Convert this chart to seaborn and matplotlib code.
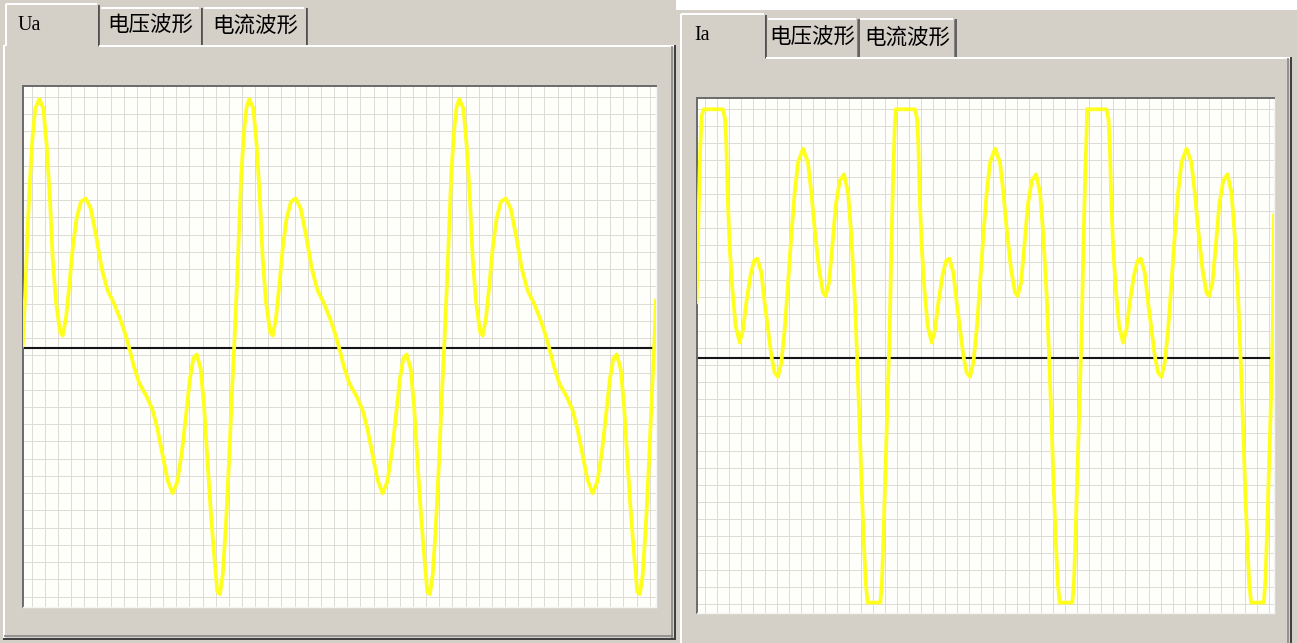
import numpy as np
import matplotlib
matplotlib.use("Agg")
import matplotlib.pyplot as plt
from matplotlib.patches import Rectangle
import seaborn as sns

sns.set_theme(style="white")
plt.rcParams['font.family'] = ['Noto Sans CJK SC', 'DejaVu Sans']

# ---------------------------------------------------------------------------
# Data: time in grid divisions, amplitude in grid divisions (0 = axis line)
# ---------------------------------------------------------------------------
left_tabs = ["Ua", "电压波形", "电流波形"]
right_tabs = ["Ia", "电压波形", "电流波形"]

ua_t = [
    0.00, 0.20, 0.35, 0.56, 0.76, 0.96,
    1.26, 1.57, 1.82, 2.08, 2.28, 2.53, 2.84, 3.04, 3.29, 3.55, 3.80, 4.10, 4.43, 4.79,
    5.17, 5.57, 6.01, 6.44, 6.94, 7.40, 7.78, 8.11, 8.46, 8.87, 9.43, 9.88, 10.24, 10.64,
    11.02, 11.40, 11.76, 12.11, 12.42, 12.72, 12.98, 13.23, 13.53, 13.79, 14.04, 14.32,
    14.60, 14.80, 15.00, 15.21, 15.44, 15.69, 15.92, 16.09, 16.27, 16.45, 16.62, 16.83, 17.03,
    17.23, 17.54, 17.79, 18.05, 18.25, 18.50, 18.81, 19.01, 19.26, 19.52, 19.77, 20.07, 20.40, 20.76,
    21.14, 21.54, 21.98, 22.41, 22.91, 23.37, 23.75, 24.08, 24.43, 24.84, 25.40, 25.85, 26.21, 26.61,
    26.99, 27.37, 27.73, 28.08, 28.39, 28.69, 28.95, 29.20, 29.50, 29.76, 30.01, 30.29,
    30.57, 30.77, 30.97, 31.18, 31.41, 31.66, 31.89, 32.06, 32.24, 32.42, 32.59, 32.80, 33.00,
    33.20, 33.51, 33.76, 34.02, 34.22, 34.47, 34.78, 34.98, 35.23, 35.49, 35.74, 36.04, 36.37, 36.73,
    37.11, 37.51, 37.95, 38.38, 38.88, 39.34, 39.72, 40.05, 40.40, 40.81, 41.37, 41.82, 42.18, 42.58,
    42.96, 43.34, 43.70, 44.05, 44.36, 44.66, 44.92, 45.17, 45.47, 45.73, 45.98, 46.26,
    46.54, 46.74, 46.94, 47.15, 47.38, 47.63, 47.86, 48.03, 48.16,
]
ua_v = [
    0.10, 3.24, 6.51, 9.81, 12.33, 13.87,
    14.41, 13.87, 11.75, 8.46, 5.17, 2.66, 0.92, 0.69, 1.69, 3.63, 5.75, 7.49, 8.46, 8.65,
    8.07, 6.53, 4.59, 3.34, 2.56, 1.69, 0.82, -0.05, -1.11, -2.08, -2.85, -3.63, -4.69, -6.24,
    -7.69, -8.46, -7.78, -6.04, -3.91, -1.79, -0.63, -0.40, -1.21, -3.34, -6.43, -9.72,
    -12.42, -14.16, -14.30, -13.20, -10.49, -6.62, -2.56, 0.15, 3.24, 6.70, 10.00, 12.52, 13.97,
    14.41, 13.87, 11.75, 8.46, 5.17, 2.66, 0.92, 0.69, 1.69, 3.63, 5.75, 7.49, 8.46, 8.65,
    8.07, 6.53, 4.59, 3.34, 2.56, 1.69, 0.82, -0.05, -1.11, -2.08, -2.85, -3.63, -4.69, -6.24,
    -7.69, -8.46, -7.78, -6.04, -3.91, -1.79, -0.63, -0.40, -1.21, -3.34, -6.43, -9.72,
    -12.42, -14.16, -14.30, -13.20, -10.49, -6.62, -2.56, 0.15, 3.24, 6.70, 10.00, 12.52, 13.97,
    14.41, 13.87, 11.75, 8.46, 5.17, 2.66, 0.92, 0.69, 1.69, 3.63, 5.75, 7.49, 8.46, 8.65,
    8.07, 6.53, 4.59, 3.34, 2.56, 1.69, 0.82, -0.05, -1.11, -2.08, -2.85, -3.63, -4.69, -6.24,
    -7.69, -8.46, -7.78, -6.04, -3.91, -1.79, -0.63, -0.40, -1.21, -3.34, -6.43, -9.72,
    -12.42, -14.16, -14.30, -13.20, -10.49, -6.62, -2.56, 0.15, 2.76,
]

ia_t = [
    0.00, 0.10, 0.21, 0.32, 0.43,
    0.60, 2.21, 2.38, 2.49, 2.60, 2.76, 2.99, 3.26, 3.60, 3.88, 4.15, 4.49, 4.79, 5.07,
    5.40, 5.68, 5.96, 6.24, 6.51, 6.79, 7.07, 7.35, 7.63, 7.90, 8.18, 8.46, 8.88, 9.29,
    9.57, 9.85, 10.21, 10.54, 10.76, 11.04, 11.32, 11.60, 11.93, 12.29, 12.63, 12.90, 13.18,
    13.40, 13.60, 13.79, 13.96, 14.10, 14.26, 15.32, 15.46, 15.60, 15.76, 15.93, 16.10,
    16.24, 16.38, 16.51,
    16.60, 18.21, 18.38, 18.49, 18.60, 18.76, 18.99, 19.26, 19.60, 19.88, 20.15, 20.49, 20.79, 21.07,
    21.40, 21.68, 21.96, 22.24, 22.51, 22.79, 23.07, 23.35, 23.63, 23.90, 24.18, 24.46, 24.88, 25.29,
    25.57, 25.85, 26.21, 26.54, 26.76, 27.04, 27.32, 27.60, 27.93, 28.29, 28.63, 28.90, 29.18,
    29.40, 29.60, 29.79, 29.96, 30.10, 30.26, 31.32, 31.46, 31.60, 31.76, 31.93, 32.10,
    32.24, 32.38, 32.51,
    32.55, 34.16, 34.33, 34.44, 34.55, 34.71, 34.94, 35.21, 35.55, 35.83, 36.10, 36.44, 36.74, 37.02,
    37.35, 37.63, 37.91, 38.19, 38.46, 38.74, 39.02, 39.30, 39.58, 39.85, 40.13, 40.41, 40.83, 41.24,
    41.52, 41.80, 42.16, 42.49, 42.71, 42.99, 43.27, 43.55, 43.88, 44.24, 44.58, 44.85, 45.13,
    45.35, 45.55, 45.74, 45.91, 46.05, 46.21, 47.27, 47.41, 47.55, 47.71, 47.88, 48.02,
    48.12,
]
ia_v = [
    3.25, 5.98, 9.49, 12.42, 14.17,
    14.56, 14.56, 13.98, 12.42, 9.49, 6.57, 4.04, 1.89, 0.91, 1.70, 3.25, 4.81, 5.69, 5.83,
    5.01, 3.25, 1.70, 0.13, -0.84, -1.08, -0.26, 1.70, 4.42, 7.15, 9.68, 11.44, 12.26, 11.44,
    9.68, 7.54, 5.20, 3.84, 3.64, 4.42, 6.57, 8.91, 10.37, 10.76, 9.68, 7.15, 3.64,
    -0.26, -4.15, -8.05, -10.98, -13.12, -14.29, -14.29, -12.92, -10.00, -6.11, -2.20, 1.70,
    6.57, 10.47, 13.39,
    14.56, 14.56, 13.98, 12.42, 9.49, 6.57, 4.04, 1.89, 0.91, 1.70, 3.25, 4.81, 5.69, 5.83,
    5.01, 3.25, 1.70, 0.13, -0.84, -1.08, -0.26, 1.70, 4.42, 7.15, 9.68, 11.44, 12.26, 11.44,
    9.68, 7.54, 5.20, 3.84, 3.64, 4.42, 6.57, 8.91, 10.37, 10.76, 9.68, 7.15, 3.64,
    -0.26, -4.15, -8.05, -10.98, -13.12, -14.29, -14.29, -12.92, -10.00, -6.11, -2.20, 1.70,
    6.57, 10.47, 13.39,
    14.56, 14.56, 13.98, 12.42, 9.49, 6.57, 4.04, 1.89, 0.91, 1.70, 3.25, 4.81, 5.69, 5.83,
    5.01, 3.25, 1.70, 0.13, -0.84, -1.08, -0.26, 1.70, 4.42, 7.15, 9.68, 11.44, 12.26, 11.44,
    9.68, 7.54, 5.20, 3.84, 3.64, 4.42, 6.57, 8.91, 10.37, 10.76, 9.68, 7.15, 3.64,
    -0.26, -4.15, -8.05, -10.98, -13.12, -14.29, -14.29, -12.92, -10.00, -6.11, -2.20, 1.70,
    8.40,
]

# ---------------------------------------------------------------------------
# Figure and window chrome (pixel coordinates, origin top-left)
# ---------------------------------------------------------------------------
W, H = 1297, 643
FACE = '#d4d0c8'
DARK = '#404040'
SHADOW = '#808080'
LIGHT = '#ffffff'
WAVE = '#ffff1e'

fig = plt.figure(figsize=(W / 100, H / 100), dpi=100, facecolor=FACE)
bg = fig.add_axes([0, 0, 1, 1])
bg.set_xlim(0, W)
bg.set_ylim(H, 0)
bg.axis('off')
bg.set_facecolor(FACE)


def hline(y, x0, x1, color, lw=1.0):
    bg.plot([x0, x1], [y, y], color=color, lw=lw * 0.72, solid_capstyle='butt')


def vline(x, y0, y1, color, lw=1.0):
    bg.plot([x, x], [y0, y1], color=color, lw=lw * 0.72, solid_capstyle='butt')


# white margin above the second window
bg.add_patch(Rectangle((676, 0), W - 676, 10, color=LIGHT, lw=0))

# --- left window: tab strip and tab page frame
hline(4, 6, 97, LIGHT, 2)
vline(6, 4, 46, LIGHT, 2)
vline(97.5, 5, 46, SHADOW, 1)
vline(99, 5, 46, DARK, 1.5)
hline(8, 101, 199, LIGHT, 2)
vline(200.5, 8, 46, SHADOW, 1)
vline(202, 8, 46, DARK, 1.5)
hline(8, 204, 304, LIGHT, 2)
vline(305.5, 8, 46, SHADOW, 1)
vline(307, 8, 46, DARK, 1.5)
hline(46, 99, 674, LIGHT, 2)
vline(4, 45, 638, LIGHT, 2)
vline(672, 46, 638, SHADOW, 1.5)
vline(674.5, 45, 640, DARK, 2)
hline(636, 4, 673, SHADOW, 1.5)
hline(638.5, 3, 675, DARK, 2)

# --- right window: tab strip and tab page frame
vline(680.5, 14, H, LIGHT, 2)
hline(14, 681, 764, LIGHT, 2)
vline(764.5, 15, 58, SHADOW, 1)
vline(766, 15, 58, DARK, 1.5)
hline(19, 768, 856, LIGHT, 2)
vline(857, 19, 58, SHADOW, 1)
vline(858.5, 19, 58, DARK, 1.5)
hline(19, 860, 953, LIGHT, 2)
vline(954, 19, 58, SHADOW, 1)
vline(955.5, 19, 58, DARK, 1.5)
hline(58, 766, 1290, LIGHT, 2)
vline(1288, 58, H, SHADOW, 1.5)
vline(1290.5, 57, H, DARK, 2)

# --- tab captions
bg.text(18, 26, left_tabs[0], family=['Liberation Serif', 'DejaVu Serif'],
        fontsize=14.5, color='black', va='center', ha='left')
bg.text(150, 26, left_tabs[1], fontsize=15.5, color='black', va='center', ha='center')
bg.text(255, 26, left_tabs[2], fontsize=15.5, color='black', va='center', ha='center')
bg.text(694, 36, right_tabs[0], family=['Liberation Serif', 'DejaVu Serif'],
        fontsize=14.5, color='black', va='center', ha='left')
bg.text(812, 38, right_tabs[1], fontsize=15.5, color='black', va='center', ha='center')
bg.text(907, 38, right_tabs[2], fontsize=15.5, color='black', va='center', ha='center')


# ---------------------------------------------------------------------------
# Oscilloscope panels
# ---------------------------------------------------------------------------
def scope_axes(x0, y0, x1, y1):
    return fig.add_axes([x0 / W, 1 - y1 / H, (x1 - x0) / W, (y1 - y0) / H])


def style_scope(ax, xmax, ybot, ytop, gx0, gy0):
    ax.set_facecolor('#fefefb')
    ax.set_xlim(0, xmax)
    ax.set_ylim(ybot, ytop)
    ax.set_xticks(np.arange(gx0, xmax, 1.0))
    ax.set_yticks(np.arange(gy0, ybot, -1.0))
    ax.tick_params(length=0, labelbottom=False, labelleft=False)
    ax.grid(True, color='#dcdcd4', lw=0.7)
    ax.set_axisbelow(True)
    ax.set_xlabel('')
    ax.set_ylabel('')
    for side in ('left', 'top'):
        ax.spines[side].set_color('#6a6a6a')
        ax.spines[side].set_linewidth(1.4)
    for side in ('right', 'bottom'):
        ax.spines[side].set_color('#f4f4f4')
        ax.spines[side].set_linewidth(1.0)
    ax.axhline(0, color='#151515', lw=1.5, zorder=2)


ax_u = scope_axes(22.7, 86, 656.5, 607)
style_scope(ax_u, 48.2, -15.05, 15.17, 0.68, 14.55)
sns.lineplot(x=ua_t, y=ua_v, ax=ax_u, color=WAVE, lw=2.7, sort=False,
             estimator=None, zorder=3)

ax_i = scope_axes(696.5, 98, 1274, 613)
style_scope(ax_i, 48.12, -14.9, 15.22, 0.7, 14.6)
sns.lineplot(x=ia_t, y=ia_v, ax=ax_i, color=WAVE, lw=2.7, sort=False,
             estimator=None, zorder=3)

fig.savefig('out.png', dpi=100, facecolor=FACE)
